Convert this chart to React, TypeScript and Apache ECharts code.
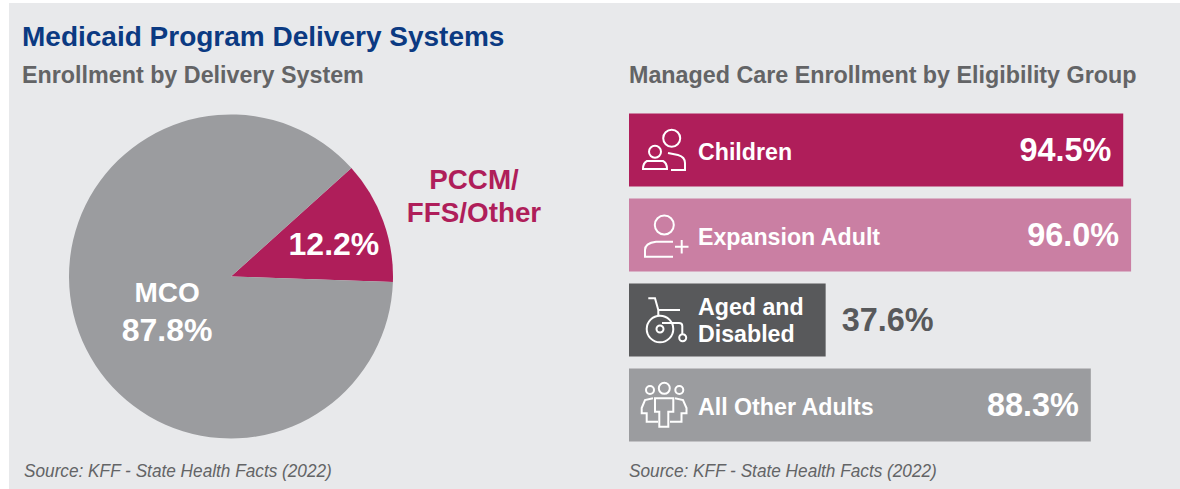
import React, { useEffect, useRef } from "react";
import * as echarts from "echarts";

const pieNames = ["PCCM/FFS/Other", "MCO"];
const pieValues = [12.2, 87.8];
const groups = ["Children", "Expansion Adult", "Aged and\nDisabled", "All Other Adults"];
const groupValues = [94.5, 96.0, 37.6, 88.3];
const groupColors = ["#AF1E5A", "#CA7FA3", "#58595B", "#9B9C9F"];
const FONT = "Liberation Sans";

const circle = (cx: number, cy: number, r: number) =>
  `M${cx - r} ${cy}a${r} ${r} 0 1 0 ${2 * r} 0a${r} ${r} 0 1 0 ${-2 * r} 0Z`;

const icons: Record<string, string> = {
  iconChildren:
    circle(671.7, 138.3, 8.5) + circle(655, 151.7, 6) +
    "M647 161L663 161Q667 163 667 169L643 169Q643 163 647 161Z" +
    "M668 153L678 155Q685 157 685 163L685 170L671 170",
  iconExpansion:
    circle(664.3, 225, 9.5) +
    "M673 241.7L656 241.7Q645 243 645 250L645 256.7L673 256.7" +
    "M681.7 240L681.7 253.5M675 246.7L688.5 246.7",
  iconAged:
    circle(660, 329, 13.3) + circle(660, 329, 3.5) + circle(682.7, 337.7, 3.5) +
    "M648.3 298.3L655 298.3L658.3 310L680 310M658.3 310L658.3 316" +
    "M662 323L679 323Q682.3 323 682.3 326L682.3 334",
  iconOther:
    circle(650, 390, 4) + circle(664.3, 388.3, 5.5) + circle(679.3, 390, 4) +
    "M655 398.3L673.3 398.3L673.3 411.7L668.3 411.7L668.3 426.7L659.3 426.7L659.3 411.7L655 411.7Z" +
    "M653 398.3L645 400L641.7 408L641.7 413.3L646.7 413.3L646.7 421.7L658 421.7" +
    "M675 398.3L683 400L686.5 408L686.5 413.3L681.5 413.3L681.5 421.7L670 421.7",
};
Object.keys(icons).forEach((k) => {
  echarts.graphic.registerShape(k, echarts.graphic.extendPath(icons[k], {}) as any);
});

const labelBase = { fontFamily: FONT, fontWeight: "bold" as const, fontSize: 23.2, color: "#ffffff" };

export default function App() {
  const ref = useRef<HTMLDivElement>(null);
  useEffect(() => {
    document.body.style.margin = "0";
    const chart = echarts.init(ref.current!, undefined, { renderer: "svg" });
    chart.setOption({
      animation: false,
      backgroundColor: "#ffffff",
      textStyle: { fontFamily: FONT },
      title: [
        { text: "Medicaid Program Delivery Systems", left: 22, top: 22, padding: 0, textStyle: { fontFamily: FONT, fontSize: 28, fontWeight: "bold", color: "#0B3A82" } },
        { text: "Enrollment by Delivery System", left: 22, top: 63, padding: 0, textStyle: { fontFamily: FONT, fontSize: 23.3, fontWeight: "bold", color: "#636466" } },
        { text: "Managed Care Enrollment by Eligibility Group", left: 629, top: 63, padding: 0, textStyle: { fontFamily: FONT, fontSize: 23.3, fontWeight: "bold", color: "#636466" } },
      ],
      grid: { left: 629, top: 107.5, width: 523, height: 340 },
      xAxis: { type: "value", min: 0, max: 100, show: false },
      yAxis: {
        type: "category",
        data: groups,
        inverse: true,
        z: 5,
        axisLine: { show: false },
        axisTick: { show: false },
        axisLabel: {
          inside: true,
          margin: 69,
          align: "left",
          ...labelBase,
          formatter: (v: string) =>
            v.includes("\n")
              ? v.split("\n").map((s) => `{two|${s}}`).join("\n")
              : `{one|${v}}`,
          rich: {
            one: { ...labelBase, padding: [4, 0, 0, 0] },
            two: { ...labelBase, lineHeight: 27 },
          },
        },
      },
      series: [
        {
          type: "pie",
          center: [231, 276.5],
          radius: [0, 162],
          startAngle: 42,
          clockwise: true,
          silent: true,
          label: { show: true, position: "inside", color: "#ffffff", fontFamily: FONT, fontWeight: "bold" },
          labelLine: { show: false },
          data: [
            {
              name: pieNames[0],
              value: pieValues[0],
              itemStyle: { color: "#AF1E5A" },
              label: { formatter: "{c}%", fontSize: 32, offset: [24, -4] },
            },
            {
              name: pieNames[1],
              value: pieValues[1],
              itemStyle: { color: "#9B9C9F" },
              label: {
                formatter: "{mco|MCO}\n{val|{c}%}",
                offset: [15, 6],
                rich: {
                  mco: { fontFamily: FONT, fontSize: 28, fontWeight: "bold", color: "#fff", lineHeight: 38 },
                  val: { fontFamily: FONT, fontSize: 32, fontWeight: "bold", color: "#fff", lineHeight: 38 },
                },
              },
            },
          ],
        },
        {
          type: "bar",
          barWidth: 73,
          silent: true,
          data: groupValues.map((v, i) => ({
            value: v,
            itemStyle: { color: groupColors[i] },
            label: {
              show: true,
              position: v < 50 ? "right" : "insideRight",
              distance: v < 50 ? 16 : 12,
              formatter: (p: any) => p.value.toFixed(1) + "%",
              fontFamily: FONT,
              fontWeight: "bold",
              fontSize: 32.4,
              color: v < 50 ? "#58595B" : "#ffffff",
            },
          })),
        },
      ],
      graphic: [
        { type: "rect", z: -10, shape: { x: 9, y: 3, width: 1171, height: 486 }, style: { fill: "#E8E9EB" } },
        { type: "text", z: 10, x: 474, y: 179, style: { text: "PCCM/", align: "center", verticalAlign: "middle", fill: "#AF1E5A", font: `bold 27.8px "${FONT}"` } },
        { type: "text", z: 10, x: 474, y: 212, style: { text: "FFS/Other", align: "center", verticalAlign: "middle", fill: "#AF1E5A", font: `bold 27.8px "${FONT}"` } },
        { type: "text", z: 10, x: 24, y: 471, scaleX: 0.957, style: { text: "Source: KFF - State Health Facts (2022)", verticalAlign: "middle", fill: "#636466", font: `italic 18px "${FONT}"` } },
        { type: "text", z: 10, x: 629, y: 471, scaleX: 0.957, style: { text: "Source: KFF - State Health Facts (2022)", verticalAlign: "middle", fill: "#636466", font: `italic 18px "${FONT}"` } },
        ...Object.keys(icons).map((k) => ({
          type: k, z: 10, x: 0, y: 0,
          style: { fill: "none", stroke: "#ffffff", lineWidth: 2 },
        })),
      ],
    });
    return () => chart.dispose();
  }, []);
  return <div ref={ref} style={{ width: 1180, height: 489 }} />;
}
